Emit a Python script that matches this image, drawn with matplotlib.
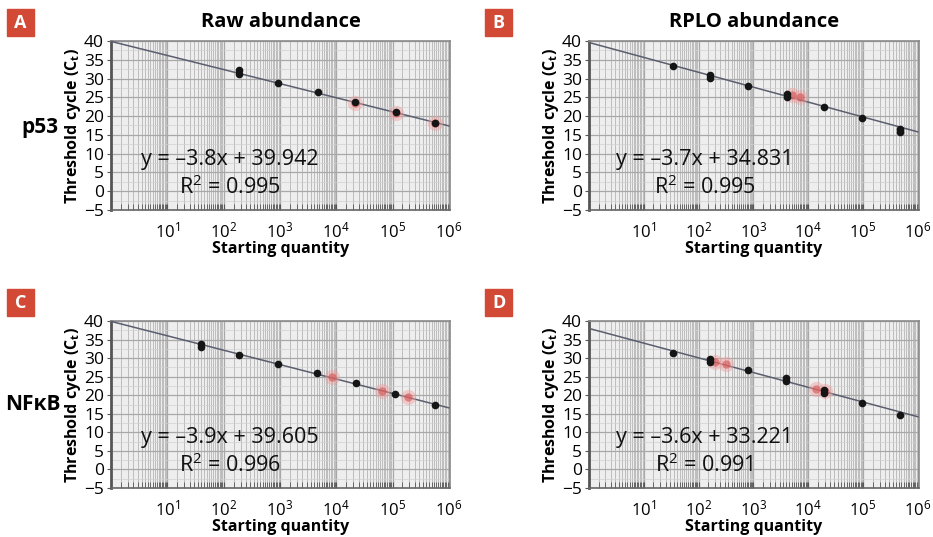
import numpy as np
import matplotlib.pyplot as plt
from matplotlib.ticker import LogLocator, FixedLocator, NullFormatter

plt.rcParams['font.family'] = ['Open Sans', 'DejaVu Sans']
plt.rcParams['mathtext.fontset'] = 'custom'
plt.rcParams['mathtext.rm'] = 'Open Sans'
plt.rcParams['mathtext.it'] = 'Open Sans:italic'
plt.rcParams['mathtext.bf'] = 'Open Sans:bold'

# Panel data (log10 of starting quantity, threshold cycle)
panel_letters = ["A", "B", "C", "D"]
col_titles = ["Raw abundance", "RPLO abundance"]
row_labels = ["p53", "NFκB"]
equations = ["y = –3.8x + 39.942", "y = –3.7x + 34.831",
             "y = –3.9x + 39.605", "y = –3.6x + 33.221"]
r_squared = ["0.995", "0.995", "0.996", "0.991"]

a_logq = [2.27, 2.27, 2.97, 3.68, 4.33, 5.07, 5.75]
a_ct = [32.2, 31.2, 28.8, 26.3, 23.7, 21.0, 18.1]
b_logq = [1.53, 2.2, 2.2, 2.9, 3.62, 3.62, 4.28, 4.98, 5.67, 5.67]
b_ct = [33.4, 31.0, 30.2, 28.0, 25.9, 25.2, 22.3, 19.4, 16.6, 15.8]
c_logq = [1.59, 1.59, 2.27, 2.97, 3.66, 4.35, 5.05, 5.75]
c_ct = [33.9, 33.0, 30.9, 28.3, 26.0, 23.3, 20.3, 17.3]
d_logq = [1.53, 2.2, 2.2, 2.91, 3.6, 3.6, 4.28, 4.28, 4.98, 5.67]
d_ct = [31.5, 29.8, 28.9, 26.7, 24.7, 23.9, 21.3, 20.6, 17.9, 14.6]

# red (highlighted) replicates, drawn as blurred smears
a_red_logq = [4.33, 5.07, 5.75]
a_red_ct = [23.6, 20.9, 18.2]
b_red_logq = [3.7, 3.85]
b_red_ct = [25.5, 25.0]
c_red_logq = [3.93, 4.81, 5.28]
c_red_ct = [24.9, 21.1, 19.4]
d_red_logq = [2.3, 2.5, 4.15, 4.3]
d_red_ct = [28.9, 28.4, 21.6, 21.1]

# fitted line ends as drawn (at log q = 0 and 6)
line_ends = [(39.9, 17.4), (39.6, 15.8), (39.9, 16.6), (38.0, 14.2)]

logq_all = [a_logq, b_logq, c_logq, d_logq]
ct_all = [a_ct, b_ct, c_ct, d_ct]
red_logq_all = [a_red_logq, b_red_logq, c_red_logq, d_red_logq]
red_ct_all = [a_red_ct, b_red_ct, c_red_ct, d_red_ct]

W, H = 933, 537
fig = plt.figure(figsize=(9.33, 5.37), dpi=100)

boxes = [(111, 41, 339, 169), (589, 41, 330, 169),
         (111, 321, 339, 167), (589, 321, 330, 167)]
red = '#d24a35'

for i, (x0, y0, w, h) in enumerate(boxes):
    ax = fig.add_axes([x0 / W, 1 - (y0 + h) / H, w / W, h / H])
    ax.set_facecolor('#eeeeee')
    ax.set_xscale('log')
    ax.set_xlim(1, 1.05e6)
    ax.set_ylim(-5, 40)

    ax.xaxis.set_major_locator(FixedLocator([1e1, 1e2, 1e3, 1e4, 1e5, 1e6]))
    ax.xaxis.set_minor_locator(LogLocator(base=10, subs=np.arange(1.5, 10, 0.5), numticks=20))
    ax.xaxis.set_minor_formatter(NullFormatter())
    ax.set_xticklabels([r'$10^{%d}$' % k for k in range(1, 7)])
    ax.set_yticks(np.arange(-5, 41, 5))
    ax.set_yticklabels([str(v).replace('-', '−') for v in range(-5, 41, 5)])
    ax.yaxis.set_minor_locator(FixedLocator(np.arange(-5, 40, 2.5)))

    ax.grid(True, which='major', color='#a8a8a8', lw=0.9)
    ax.grid(True, which='minor', axis='x', color='#bdbdbd', lw=0.7)
    ax.grid(True, which='minor', axis='y', color='#d0d0d0', lw=0.5)
    ax.set_axisbelow(True)

    ax.tick_params(axis='x', which='both', direction='in', length=4, color='#555555',
                   pad=8, labelsize=12)
    ax.tick_params(axis='y', which='major', direction='out', length=3, color='#555555',
                   pad=2, labelsize=12.5)
    ax.tick_params(axis='y', which='minor', length=0)
    for s in ax.spines.values():
        s.set_color('#8a8a8a')
        s.set_linewidth(1.2)
    ax.spines['left'].set_color('#555555')
    ax.spines['left'].set_linewidth(2)
    ax.spines['bottom'].set_color('#666666')

    y_start, y_end = line_ends[i]
    lx = np.array([1.0, 1e6])
    ax.plot(lx, [y_start, y_end], color='#5a5e6e', lw=1.1, zorder=3)

    rx = 10 ** np.array(red_logq_all[i])
    ax.plot(rx, red_ct_all[i], 'o', ms=11, color='#f0a0a0', alpha=0.45, mec='none', zorder=4)
    ax.plot(rx, red_ct_all[i], 'o', ms=6, color='#d85050', alpha=0.6, mec='none', zorder=4)

    px = 10 ** np.array(logq_all[i])
    ax.plot(px, ct_all[i], 'o', ms=5.5, color='#151515', mec='none', zorder=5)

    ax.text(0.35, 0.30, equations[i], transform=ax.transAxes, ha='center', va='center',
            fontsize=15.5, color='#111111')
    ax.text(0.35, 0.135, r'R$^2$ = ' + r_squared[i], transform=ax.transAxes,
            ha='center', va='center', fontsize=15.5, color='#111111')

    ax.set_xlabel('Starting quantity', fontsize=11.5, fontweight='bold', labelpad=0)
    ax.set_ylabel(r'Threshold cycle (C$_\mathbf{t}$)', fontsize=11.5, fontweight='bold', labelpad=1)

    if i < 2:
        ax.set_title(col_titles[i], fontsize=14.5, fontweight='bold', pad=10)

    # panel letter badges
    bx = 7 if i % 2 == 0 else 485
    by = 9 if i < 2 else 289
    fig.patches.append(plt.Rectangle((bx / W, 1 - (by + 27) / H), 27 / W, 27 / H,
                                     transform=fig.transFigure, color=red, zorder=0))
    fig.text((bx + 13.5) / W, 1 - (by + 13.5) / H, panel_letters[i], ha='center',
             va='center', color='white', fontsize=13, fontweight='bold')

fig.text(40 / W, 1 - 127 / H, row_labels[0], ha='center', va='center',
         fontsize=15, fontweight='bold')
fig.text(33 / W, 1 - 405 / H, row_labels[1], ha='center', va='center',
         fontsize=15, fontweight='bold')

fig.savefig('out.png', dpi=100, facecolor='white')
